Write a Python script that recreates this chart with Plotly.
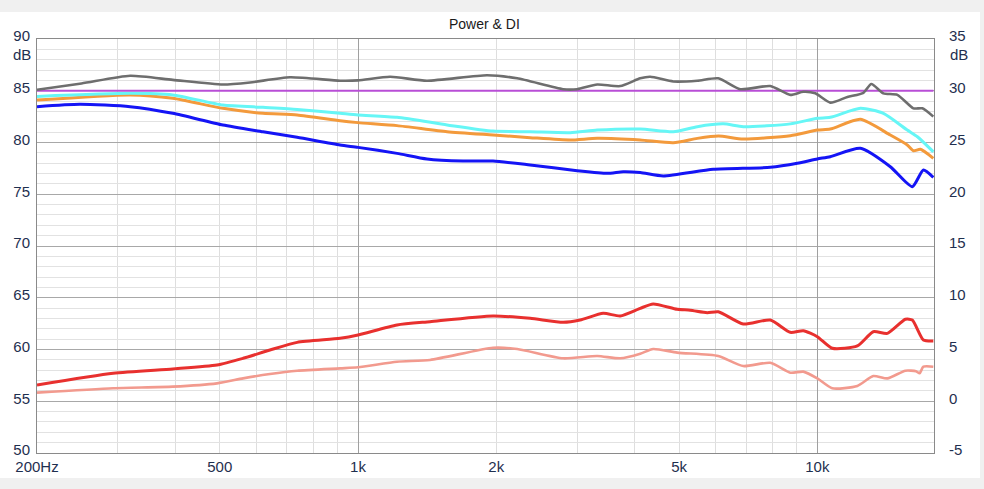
import math
import plotly.graph_objects as go

# ---------------- data ----------------
gray_f = [200, 250, 319, 395, 508, 582, 711, 914, 1000, 1174, 1413, 1910, 2221, 2797, 3000,
          3317, 3723, 4116, 4327, 4858, 5478, 6086, 6796, 7900, 8734, 9322, 9900, 10670,
          11630, 12600, 13110, 13930, 14940, 16190, 16930, 17890]
gray_db = [85.1, 85.7, 86.45, 86.05, 85.6, 85.8, 86.3, 85.97, 86.0, 86.35, 85.97, 86.5, 86.2,
           85.15, 85.15, 85.6, 85.45, 86.2, 86.35, 85.9, 85.97, 86.2, 85.15, 85.45, 84.6, 84.9,
           84.75, 83.85, 84.4, 84.8, 85.65, 84.75, 84.6, 83.3, 83.3, 82.5]

ref_f = [200, 17900]
ref_db = [85.0, 85.0]

cyan_f = [200, 319, 395, 508, 621, 737, 914, 1000, 1216, 1563, 1968, 2370, 2896, 3317, 4116,
          4858, 5478, 6240, 6900, 8734, 10000, 10670, 12410, 13930, 15700, 16520, 17890]
cyan_db = [84.45, 84.75, 84.6, 83.62, 83.4, 83.2, 82.82, 82.66, 82.43, 81.7, 81.1, 81.04, 80.95,
           81.2, 81.3, 81.04, 81.53, 81.8, 81.53, 81.8, 82.34, 82.43, 83.3, 82.82, 81.2, 80.56,
           79.1]

orange_f = [200, 319, 395, 508, 621, 737, 914, 1000, 1216, 1563, 1968, 2370, 2896, 3317, 4116,
            4858, 5478, 6090, 6900, 8734, 10000, 10670, 12410, 14420, 15700, 16190, 16770,
            17890]
orange_db = [84.1, 84.6, 84.27, 83.3, 82.82, 82.66, 82.1, 81.92, 81.63, 81.04, 80.72, 80.47,
             80.24, 80.4, 80.24, 79.98, 80.4, 80.63, 80.34, 80.66, 81.2, 81.3, 82.24, 80.72,
             79.76, 79.2, 79.34, 78.47]

blue_f = [200, 248, 319, 395, 508, 621, 737, 914, 1000, 1216, 1413, 1693, 1968, 2370, 3000,
          3487, 3779, 4116, 4620, 5935, 7900, 9045, 10000, 10670, 12410, 14420, 16100, 17020,
          17890]
blue_db = [83.46, 83.69, 83.46, 82.82, 81.69, 81.04, 80.5, 79.76, 79.53, 78.95, 78.41, 78.21,
           78.21, 77.83, 77.28, 77.02, 77.18, 77.1, 76.76, 77.41, 77.6, 77.99, 78.41, 78.63,
           79.44, 77.66, 75.73, 77.34, 76.63]

# DI curves (right axis, dB)
di_f = [200, 293, 395, 493, 562, 643, 737, 914, 1000, 1216, 1435, 1968, 2370, 2797, 3045, 3418,
        3723, 4116, 4392, 4955, 5288, 5758, 6086, 6900, 7900, 8734, 9322, 10000, 10780, 12220,
        13240, 14210, 15550, 16100, 17020, 17890]
di_db = [1.57, 2.7, 3.12, 3.5, 4.15, 4.95, 5.69, 6.08, 6.4, 7.37, 7.69, 8.24, 8.01, 7.63, 7.85,
         8.5, 8.24, 8.98, 9.4, 8.88, 8.8, 8.56, 8.65, 7.46, 7.85, 6.66, 6.82, 6.24, 5.12, 5.34,
         6.72, 6.56, 7.92, 7.85, 5.92, 5.82]

di2_f = [200, 293, 395, 493, 562, 643, 737, 914, 1000, 1216, 1435, 1968, 2221, 2797, 3317,
         3723, 4116, 4392, 4955, 6086, 6900, 7900, 8734, 9322, 10000, 10780, 12220, 13240,
         14210, 15550, 16400, 16700, 17020, 17890]
di2_db = [0.83, 1.25, 1.41, 1.73, 2.21, 2.63, 2.95, 3.18, 3.28, 3.82, 3.99, 5.17, 5.05, 4.15,
          4.37, 4.15, 4.6, 5.05, 4.7, 4.37, 3.4, 3.72, 2.76, 2.86, 2.21, 1.25, 1.47, 2.44, 2.21,
          2.95, 2.9, 2.7, 3.34, 3.34]

x_tick_vals = [200, 500, 1000, 2000, 5000, 10000]
x_tick_text = ["200Hz", "500", "1k", "2k", "5k", "10k"]
x_minor_vals = [300, 400, 500, 600, 700, 800, 900, 2000, 3000, 4000, 5000, 6000, 7000, 8000, 9000]
x_major_vals = [1000, 10000]
y_left_vals = [50, 55, 60, 65, 70, 75, 80, 85, 90]
y_right_vals = [-5, 0, 5, 10, 15, 20, 25, 30, 35]
y_right_text = ["-5", "0", "5", "10", "15", "20", "25", "30", "35"]
title_text = "Power & DI"

# ---------------- figure ----------------
W, H = 984, 489
L, R, T, B = 37, 50, 39, 36
PW, PH = W - L - R, H - T - B
FONT = "Liberation Sans, Arial, sans-serif"
LBL = "#1f2f4f"

def px(xp):
    return (xp - L) / PW

def py(yp):
    return (H - B - yp) / PH

fig = go.Figure()

def add(fx, fy, color, width, yaxis="y"):
    fig.add_trace(go.Scatter(x=fx, y=fy, mode="lines", yaxis=yaxis, xaxis="x",
                             line=dict(color=color, width=width, shape="spline", smoothing=0.6),
                             hoverinfo="skip", showlegend=False))

add(di2_f, di2_db, "#f29a8e", 2.6, "y2")
add(di_f, di_db, "#e8302e", 3.0, "y2")
add(blue_f, blue_db, "#1414f5", 3.0)
add(orange_f, orange_db, "#f39a3c", 3.0)
add(cyan_f, cyan_db, "#66f6f6", 3.0)
fig.add_trace(go.Scatter(x=ref_f, y=ref_db, mode="lines", line=dict(color="#b84ed6", width=2),
                         hoverinfo="skip", showlegend=False))
add(gray_f, gray_db, "#6e6e6e", 2.6)

xr = [math.log10(200), math.log10(17950)]

fig.update_layout(
    width=W, height=H,
    margin=dict(l=L, r=R, t=T, b=B, pad=0),
    paper_bgcolor="white", plot_bgcolor="white",
    font=dict(family=FONT, size=15, color=LBL),
    xaxis=dict(type="log", range=xr, tickmode="array", tickvals=x_tick_vals,
               ticktext=x_tick_text, showgrid=False, zeroline=False,
               showline=True, mirror=True, linecolor="#8a8a8a", linewidth=1,
               ticks="", tickfont=dict(size=15, color=LBL),
               minor=dict(tickmode="array", tickvals=x_minor_vals, showgrid=True,
                          gridcolor="#dedede", gridwidth=1, ticks="")),
    xaxis2=dict(type="log", range=xr, overlaying="x", tickmode="array",
                tickvals=x_major_vals, showticklabels=False, showgrid=True,
                gridcolor="#a0a0a0", gridwidth=1, zeroline=False, ticks="",
                showline=False),
    yaxis=dict(range=[50, 90], tickmode="array", tickvals=y_left_vals, showgrid=True,
               gridcolor="#a8a8a8", gridwidth=1, zeroline=False, showline=True,
               mirror=True, linecolor="#8a8a8a", ticks="", ticklabelstandoff=3,
               ticklabelshift=-3, tickfont=dict(size=15, color=LBL),
               minor=dict(dtick=1, tick0=50, showgrid=True, gridcolor="#e2e2e2",
                          gridwidth=1, ticks="")),
    yaxis2=dict(range=[-5, 35], overlaying="y", side="right", tickmode="array",
                tickvals=y_right_vals, ticktext=y_right_text, showgrid=False,
                zeroline=False, ticks="", ticklabelstandoff=14, ticklabelshift=-3,
                tickfont=dict(size=15, color=LBL)),
    showlegend=False,
)

# invisible point binding xaxis2 so its major grid (1k, 10k) is drawn
fig.add_trace(go.Scatter(x=[1000], y=[70], xaxis="x2", yaxis="y", mode="markers",
                         marker=dict(opacity=0), hoverinfo="skip", showlegend=False))

# outer frame bands
band = "#f0f0f0"
fig.add_shape(type="rect", xref="paper", yref="paper", x0=px(0), x1=px(W), y0=py(12), y1=py(0),
              fillcolor=band, line_width=0, layer="below")
fig.add_shape(type="rect", xref="paper", yref="paper", x0=px(0), x1=px(W), y0=py(H), y1=py(478),
              fillcolor=band, line_width=0, layer="below")
fig.add_shape(type="rect", xref="paper", yref="paper", x0=px(980), x1=px(W), y0=py(H), y1=py(0),
              fillcolor=band, line_width=0, layer="below")

fig.add_annotation(text=title_text, xref="paper", yref="paper", x=px(484), y=py(24),
                   xanchor="center", yanchor="middle", showarrow=False,
                   font=dict(family=FONT, size=14, color="#1a1a1a"))
fig.add_annotation(text="dB", xref="paper", yref="paper", x=px(33), y=py(44),
                   xanchor="right", yanchor="top", showarrow=False,
                   font=dict(family=FONT, size=15, color=LBL))
fig.add_annotation(text="dB", xref="paper", yref="paper", x=px(948), y=py(44),
                   xanchor="left", yanchor="top", showarrow=False,
                   font=dict(family=FONT, size=15, color=LBL))

fig.write_html("out.html")
